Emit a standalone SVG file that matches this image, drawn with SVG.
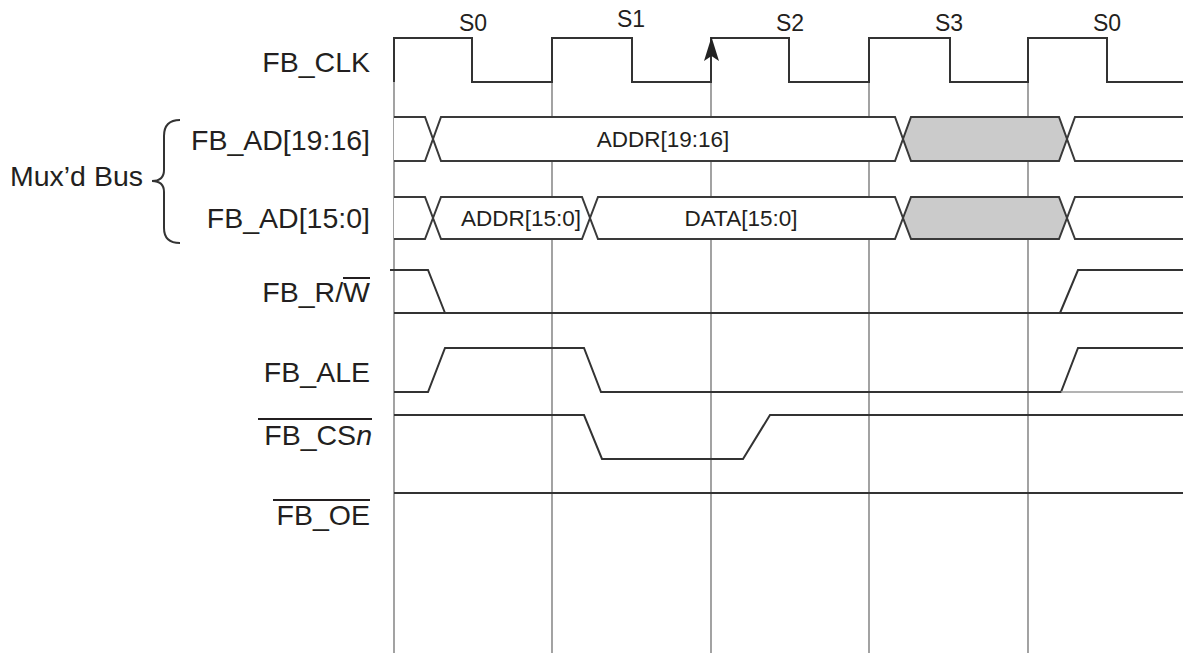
<svg xmlns="http://www.w3.org/2000/svg" width="1183" height="653" viewBox="0 0 1183 653">
<style>
.lbl{font-family:"Liberation Sans",Arial,sans-serif;font-size:28.5px;fill:#231f20;text-anchor:end}
.st{font-family:"Liberation Sans",Arial,sans-serif;font-size:23px;fill:#231f20;text-anchor:middle}
.bt{font-family:"Liberation Sans",Arial,sans-serif;font-size:22.5px;fill:#231f20;text-anchor:middle}
.grid{stroke:#8c8c8c;stroke-width:1.6;fill:none}
.sig{stroke:#333;stroke-width:2;fill:none;stroke-linejoin:miter}
.bus{stroke:#3a3a3a;stroke-width:2;fill:#fff}
.busg{stroke:#3a3a3a;stroke-width:2;fill:#cbcbcb}
.bar{stroke:#231f20;stroke-width:2}
</style>
<rect width="1183" height="653" fill="#fff"/>
<g id="gridlines">
<path class="grid" d="M394,82V653M552,82V653M711,82V653M869,82V653M1028,82V653"/>
</g>
<g id="states">
<text class="st" x="473" y="31">S0</text>
<text class="st" x="631" y="27">S1</text>
<text class="st" x="790" y="31">S2</text>
<text class="st" x="949" y="31">S3</text>
<text class="st" x="1107" y="31">S0</text>
</g>
<g id="fb_clk">
<text class="lbl" x="370" y="72">FB_CLK</text>
<path class="sig" d="M394,82V38H472V82H552V38H632V82H711V38H789V82H869V38H950V82H1028V38H1107V82H1183"/>
<polygon points="711.5,37 719,61 711.5,56 704,61" fill="#222"/>
</g>
<g id="mux_bus">
<text class="lbl" x="143" y="186">Mux’d Bus</text>
<path class="sig" stroke-width="1.6" d="M180,120Q164,120 164,136V170Q164,181 152,181Q164,181 164,192V228Q164,243 180,243"/>
</g>
<g id="fb_ad_19_16">
<text class="lbl" x="370" y="150">FB_AD[19:16]</text>
<path class="bus" d="M394,117H425L433,139L425,161H394"/>
<polygon class="bus" points="433,139 441,117 895,117 903,139 895,161 441,161"/>
<polygon class="busg" points="903,139 911,117 1059,117 1067,139 1059,161 911,161"/>
<path class="bus" d="M1183,117H1075L1067,139L1075,161H1183"/>
<text class="bt" x="663" y="147">ADDR[19:16]</text>
</g>
<g id="fb_ad_15_0">
<text class="lbl" x="370" y="228">FB_AD[15:0]</text>
<path class="bus" d="M394,197H425L433,218L425,239H394"/>
<polygon class="bus" points="433,218 441,197 582,197 590,218 582,239 441,239"/>
<polygon class="bus" points="590,218 598,197 895,197 903,218 895,239 598,239"/>
<polygon class="busg" points="903,218 911,197 1059,197 1067,218 1059,239 911,239"/>
<path class="bus" d="M1183,197H1075L1067,218L1075,239H1183"/>
<text class="bt" x="521" y="226">ADDR[15:0]</text>
<text class="bt" x="741" y="226">DATA[15:0]</text>
</g>
<g id="fb_rw">
<text class="lbl" x="370" y="302">FB_R/W</text>
<line class="bar" x1="343" y1="278" x2="370" y2="278"/>
<path class="sig" d="M394,313H1183"/>
<path class="sig" d="M390,270H428L445,313"/>
<path class="sig" d="M1060,313L1078,270H1183"/>
</g>
<g id="fb_ale">
<text class="lbl" x="370" y="382">FB_ALE</text>
<path class="sig" d="M394,392H428L445,348H584L601,392H1061L1078,348H1183"/>
<path d="M1061,392H1183" stroke="#9a9a9a" stroke-width="1.6" fill="none"/>
</g>
<g id="fb_csn">
<text class="lbl" x="372" y="445">FB_CS<tspan font-style="italic">n</tspan></text>
<line class="bar" x1="258" y1="419" x2="372" y2="419"/>
<path class="sig" d="M394,415H584L602,459H743L770,415H1183"/>
</g>
<g id="fb_oe">
<text class="lbl" x="370" y="525">FB_OE</text>
<line class="bar" x1="273" y1="500" x2="370" y2="500"/>
<path class="sig" d="M394,493H1183"/>
</g>
</svg>
